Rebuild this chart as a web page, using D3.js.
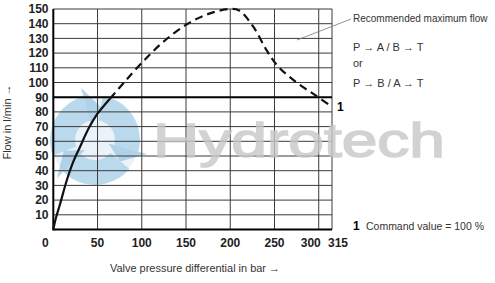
<!DOCTYPE html>
<html>
<head>
<meta charset="utf-8">
<script src="https://cdn.jsdelivr.net/npm/d3@7"></script>
<style>
  body { margin: 0; background: #fff; }
  text { font-family: "Liberation Sans", Arial, sans-serif; }
</style>
</head>
<body>
<script>
// data
const xTicks = [0, 50, 100, 150, 200, 250, 300, 315];
const yTicks = [10, 20, 30, 40, 50, 60, 70, 80, 90, 100, 110, 120, 130, 140, 150];
const commandLevel = 90;
// solid part of curve 1 (pressure in bar, flow in l/min)
const solidCurve = [[0, 0], [3, 8], [7.5, 17], [15, 33], [22.5, 46], [30, 56], [41, 70], [49, 78], [64, 89]];
// dashed part: recommended maximum flow
const dashedCurve = [[64, 89], [80, 100], [101, 114], [125, 128], [152, 140], [177, 147], [200, 150],
                     [210, 149], [226, 138], [241, 122], [254, 111], [275, 100], [297, 91], [315, 83.5]];
const noteLines = ["Recommended maximum flow", "P \u2192 A / B \u2192 T", "or", "P \u2192 B / A \u2192 T"];

const width = 495, height = 283;

const x = d3.scaleLinear().domain([0, 315]).range([53.3, 332]);
const y = d3.scaleLinear().domain([0, 150]).range([229.5, 9]);

const svg = d3.select("body")
  .append("svg")
  .attr("width", width)
  .attr("height", height);

// watermark logo (swirl) behind everything
const logo = svg.append("g").attr("transform", "translate(95,140)");
logo.append("circle")
  .attr("r", 44)
  .attr("fill", "#dcebf5")
  .attr("opacity", 0.6);
const arc = d3.arc().innerRadius(20).outerRadius(45);
[0, 120, 240].forEach(function(a) {
  logo.append("path")
    .attr("d", arc({startAngle: (a + 10) * Math.PI / 180, endAngle: (a + 105) * Math.PI / 180}))
    .attr("fill", "#a9d0e8")
    .attr("opacity", 0.75);
  // little arrow tip at the end of each segment
  let t = (a + 105) * Math.PI / 180;
  let p = function(r, ang) { return [r * Math.sin(ang), -r * Math.cos(ang)]; };
  logo.append("path")
    .attr("d", "M" + p(14, t) + "L" + p(54, t) + "L" + p(33, t + 0.45) + "Z")
    .attr("fill", "#9cc7e2")
    .attr("opacity", 0.75);
});

// grid
svg.append("g")
  .selectAll("line")
  .data(yTicks.filter(d => d !== commandLevel))
  .enter().append("line")
  .attr("x1", x(0)).attr("x2", x(315))
  .attr("y1", d => y(d)).attr("y2", d => y(d))
  .attr("stroke", "#3a3a3a")
  .attr("stroke-width", 1);

svg.append("g")
  .selectAll("line")
  .data(xTicks.filter(d => d > 0))
  .enter().append("line")
  .attr("x1", d => x(d)).attr("x2", d => x(d))
  .attr("y1", y(0)).attr("y2", y(150))
  .attr("stroke", "#3a3a3a")
  .attr("stroke-width", 1);

// axes lines
svg.append("line")
  .attr("x1", x(0)).attr("x2", x(0))
  .attr("y1", y(0) + 1).attr("y2", y(150))
  .attr("stroke", "#000").attr("stroke-width", 2);
svg.append("line")
  .attr("x1", x(0)).attr("x2", x(315))
  .attr("y1", y(0)).attr("y2", y(0))
  .attr("stroke", "#000").attr("stroke-width", 2);

// command value line at 90
svg.append("line")
  .attr("x1", x(0)).attr("x2", x(315))
  .attr("y1", y(commandLevel)).attr("y2", y(commandLevel))
  .attr("stroke", "#000").attr("stroke-width", 2);

// tick labels
svg.append("g")
  .selectAll("text")
  .data(yTicks)
  .enter().append("text")
  .attr("x", 48.5)
  .attr("y", d => y(d))
  .attr("dy", "0.36em")
  .attr("text-anchor", "end")
  .attr("font-size", 12)
  .attr("font-weight", "bold")
  .attr("fill", "#222")
  .text(d => d);

const xShift = {0: -8, 300: -8, 315: 6};
svg.append("g")
  .selectAll("text")
  .data(xTicks)
  .enter().append("text")
  .attr("x", d => x(d) + (xShift[d] || 0))
  .attr("y", 247)
  .attr("text-anchor", "middle")
  .attr("font-size", 12)
  .attr("font-weight", "bold")
  .attr("fill", "#222")
  .text(d => d);

// axis titles
svg.append("text")
  .attr("x", 110).attr("y", 272)
  .attr("font-size", 11)
  .attr("fill", "#333")
  .attr("textLength", 170)
  .attr("lengthAdjust", "spacingAndGlyphs")
  .text("Valve pressure differential in bar \u2192");

svg.append("text")
  .attr("transform", "translate(11,122) rotate(-90)")
  .attr("text-anchor", "middle")
  .attr("font-size", 11)
  .attr("fill", "#333")
  .text("Flow in l/min \u2192");

// curve 1
const line = d3.line()
  .x(d => x(d[0]))
  .y(d => y(d[1]))
  .curve(d3.curveCatmullRom.alpha(0.5));

svg.append("path")
  .datum(solidCurve)
  .attr("fill", "none")
  .attr("stroke", "#111")
  .attr("stroke-width", 2.2)
  .attr("d", line);

svg.append("path")
  .datum(dashedCurve)
  .attr("fill", "none")
  .attr("stroke", "#111")
  .attr("stroke-width", 2.2)
  .attr("stroke-dasharray", "8,5")
  .attr("d", line);

svg.append("text")
  .attr("x", 337).attr("y", 111)
  .attr("font-size", 12)
  .attr("font-weight", "bold")
  .text("1");

// watermark text
svg.append("text")
  .attr("x", 153).attr("y", 157)
  .attr("font-size", 48)
  .attr("font-family", "DejaVu Sans")
  .attr("textLength", 292)
  .attr("lengthAdjust", "spacingAndGlyphs")
  .attr("fill", "#c8c8c8")
  .attr("stroke", "#c8c8c8")
  .attr("stroke-width", 1.5)
  .attr("opacity", 0.8)
  .text("Hydrotech");

// annotation
svg.append("line")
  .attr("x1", 297).attr("y1", 40)
  .attr("x2", 351).attr("y2", 19)
  .attr("stroke", "#777").attr("stroke-width", 0.8);

svg.append("g")
  .selectAll("text")
  .data(noteLines)
  .enter().append("text")
  .attr("x", 353)
  .attr("y", (d, i) => [22, 51, 67, 87][i])
  .attr("font-size", (d, i) => i === 0 ? 10 : 11)
  .attr("fill", "#333")
  .text(d => d);

svg.append("text")
  .attr("x", 353).attr("y", 230)
  .attr("font-size", 12)
  .attr("font-weight", "bold")
  .text("1");
svg.append("text")
  .attr("x", 366).attr("y", 230)
  .attr("font-size", 11)
  .attr("fill", "#333")
  .attr("textLength", 118)
  .attr("lengthAdjust", "spacingAndGlyphs")
  .text("Command value = 100 %");
</script>
</body>
</html>
